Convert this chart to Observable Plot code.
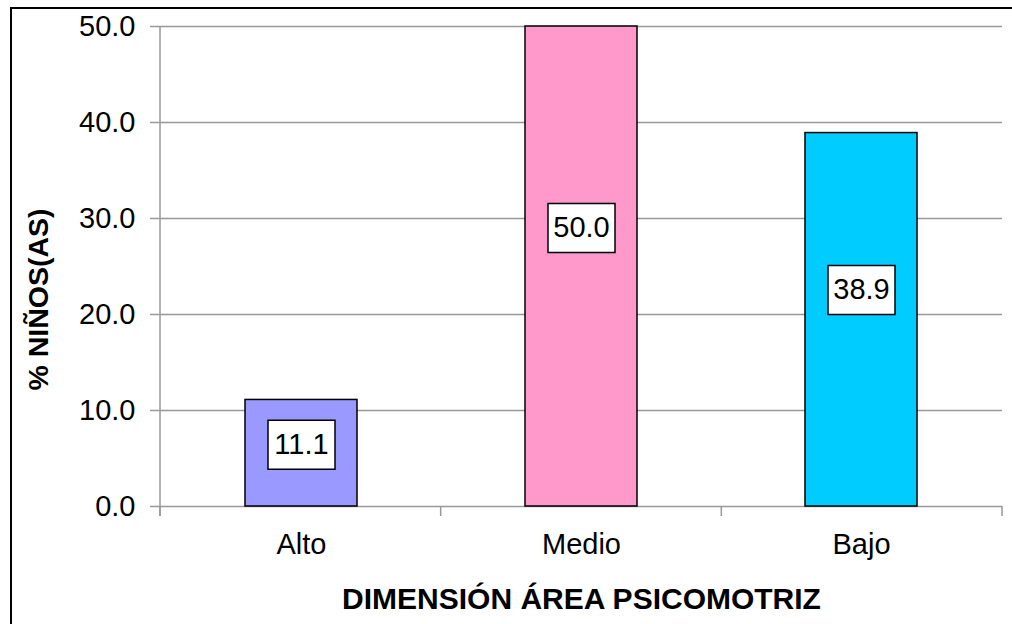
<!DOCTYPE html>
<html>
<head>
<meta charset="utf-8">
<script src="https://cdn.jsdelivr.net/npm/d3@7"></script>
<script src="https://cdn.jsdelivr.net/npm/@observablehq/plot@0.6"></script>
<style>
  html, body { margin: 0; padding: 0; background: white; overflow: hidden; }
  #wrap { position: relative; width: 1012px; height: 624px; overflow: hidden; }
  #border { position: absolute; left: 10px; top: 7px; width: 1020px; height: 640px; border: 2px solid black; box-sizing: border-box; pointer-events: none; }
</style>
</head>
<body>
<div id="wrap"><div id="chart"></div><div id="border"></div></div>
<script>
const categories = ["Alto", "Medio", "Bajo"];
const values = [11.1, 50.0, 38.9];
const yTicks = [0, 10, 20, 30, 40, 50];
const xTitle = "DIMENSIÓN ÁREA PSICOMOTRIZ";
const yTitle = "% NIÑOS(AS)";

const barColors = ["#9999FF", "#FF99CC", "#00CCFF"];
const gray = "#999999";
const font = "'Liberation Sans', Arial, sans-serif";

const data = categories.map((c, i) => ({category: c, value: values[i]}));
const fmt = d3.format(".1f");

const rectSymbol = {
  draw(ctx) { ctx.rect(-33.5, -24.5, 67, 49); }
};

const axisLines = (index, scales, values, dims) => {
  const g = d3.create("svg:g").attr("stroke", gray).attr("stroke-width", 1.5);
  const {marginLeft: ml, marginRight: mr, marginTop: mt, width: w} = dims;
  const y0 = scales.y(0);
  g.append("line").attr("x1", ml).attr("x2", ml).attr("y1", mt).attr("y2", y0 + 10);
  const n = categories.length;
  const step = (w - ml - mr) / n;
  for (let k = 0; k <= n; k++) {
    g.append("line").attr("x1", ml + k * step).attr("x2", ml + k * step).attr("y1", y0).attr("y2", y0 + 10);
  }
  return g.node();
};

const chart = Plot.plot({
  width: 1012,
  height: 624,
  marginLeft: 160,
  marginRight: 10,
  marginTop: 26,
  marginBottom: 118,
  style: {fontFamily: font, color: "black", background: "white", overflow: "visible"},
  x: {domain: categories, paddingInner: 0.6, paddingOuter: 0.3},
  y: {domain: [0, 50]},
  color: {domain: categories, range: barColors},
  marks: [
    Plot.gridY(yTicks, {stroke: gray, strokeOpacity: 1, strokeWidth: 1.5}),
    Plot.axisY(yTicks, {tickSize: 10, tickPadding: 15, tickFormat: fmt, fontSize: 29, stroke: gray, strokeWidth: 1.5, fill: "black", label: null}),
    Plot.axisX({tickSize: 0, tickPadding: 27, fontSize: 29, fill: "black", label: null}),
    axisLines,
    Plot.barY(data, {x: "category", y: "value", fill: "category", stroke: "black", strokeWidth: 1.5}),
    Plot.dot(data, {x: "category", y: d => d.value * 0.58, symbol: rectSymbol, fill: "white", stroke: "black", strokeWidth: 1.5}),
    Plot.text(data, {x: "category", y: d => d.value * 0.58, text: d => fmt(d.value), fontSize: 29, fill: "black"}),
    Plot.text([xTitle], {frameAnchor: "bottom", dy: 102, fontSize: 30, fontWeight: "bold", fill: "black"}),
    Plot.text([yTitle], {frameAnchor: "left", dx: -122, dy: 124, rotate: -90, fontSize: 28.5, fontWeight: "bold", fill: "black"})
  ]
});
document.getElementById("chart").appendChild(chart);
</script>
</body>
</html>
